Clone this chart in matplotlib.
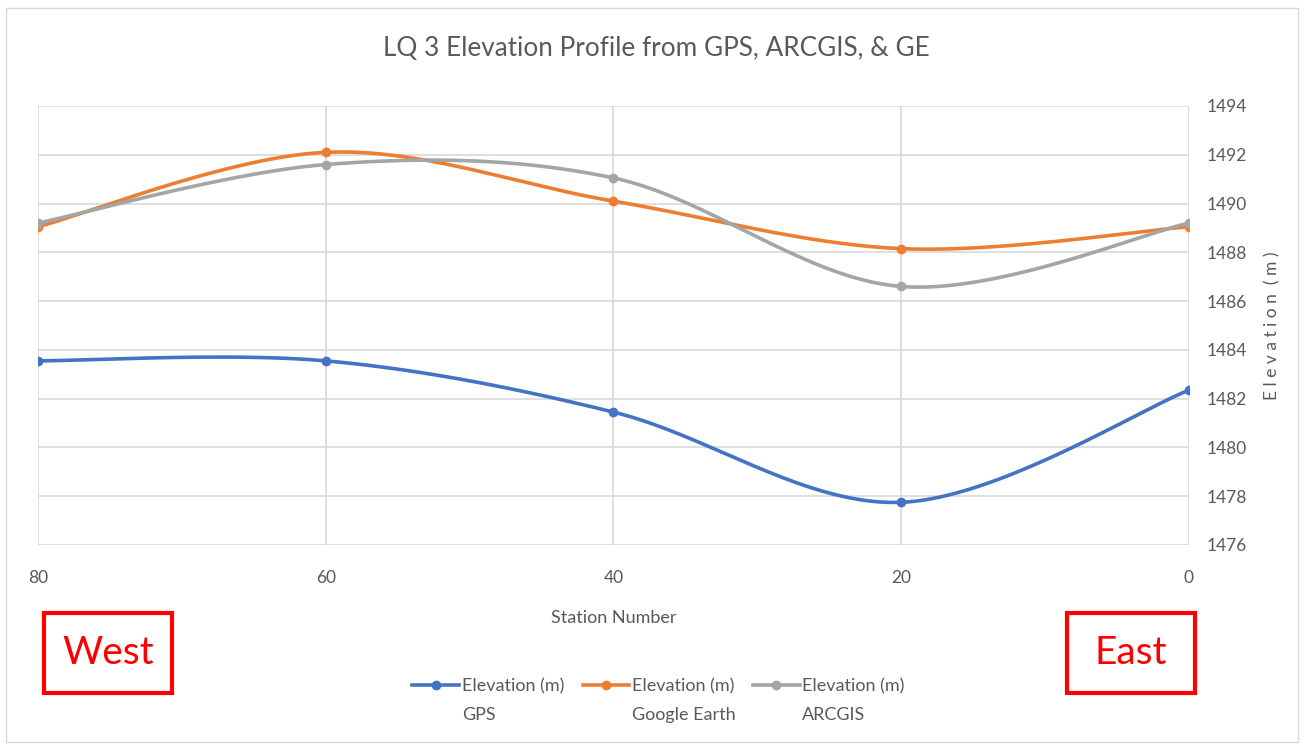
import numpy as np
import matplotlib
matplotlib.use("Agg")
import matplotlib.pyplot as plt
from matplotlib.patches import Rectangle
from matplotlib.lines import Line2D

plt.rcParams['font.family'] = ['Lato', 'DejaVu Sans']

stations = [80, 60, 40, 20, 0]
gps = [1483.55, 1483.55, 1481.45, 1477.75, 1482.35]
google_earth = [1489.05, 1492.1, 1490.1, 1488.15, 1489.05]
arcgis = [1489.2, 1491.6, 1491.05, 1486.6, 1489.2]

legend_top = ["Elevation (m)", "Elevation (m)", "Elevation (m)"]
legend_bottom = ["GPS", "Google Earth", "ARCGIS"]
colors = ["#4472C4", "#ED7D31", "#A5A5A5"]
yticks = [1476, 1478, 1480, 1482, 1484, 1486, 1488, 1490, 1492, 1494]


def smooth(xs, ys, n=40):
    # Excel style smoothed line: cubic bezier with catmull-rom control points
    xs = np.asarray(xs, float)
    ys = np.asarray(ys, float)
    pts = np.column_stack([xs, ys])
    out = []
    for i in range(len(pts) - 1):
        p0 = pts[i - 1] if i > 0 else pts[i]
        p1 = pts[i]
        p2 = pts[i + 1]
        p3 = pts[i + 2] if i + 2 < len(pts) else pts[i + 1]
        c1 = p1 + (p2 - p0) / 6.0
        c2 = p2 - (p3 - p1) / 6.0
        t = np.linspace(0, 1, n)[:, None]
        seg = ((1 - t) ** 3) * p1 + 3 * ((1 - t) ** 2) * t * c1 + 3 * (1 - t) * t ** 2 * c2 + t ** 3 * p2
        out.append(seg if i == 0 else seg[1:])
    out = np.vstack(out)
    return out[:, 0], out[:, 1]


fig = plt.figure(figsize=(13.04, 7.48), dpi=100)
ax = fig.add_axes([0.0291, 0.2714, 0.8827, 0.5869])

handles = []
for vals, col, name in zip([gps, google_earth, arcgis], colors, legend_top):
    sx, sy = smooth(stations, vals)
    ax.plot(sx, sy, color=col, lw=2.6, solid_capstyle='round', zorder=3)
    ax.plot(stations, vals, 'o', color=col, ms=6, zorder=4)
    handles.append(Line2D([0], [0], color=col, lw=2.6, marker='o', ms=6, label=name))

ax.set_xlim(80, 0)
ax.set_ylim(1476, 1494)
ax.set_xticks(stations)
ax.set_yticks(yticks)
ax.yaxis.tick_right()
ax.yaxis.set_label_position("right")
ax.grid(True, color="#D9D9D9", lw=1.2)
ax.set_axisbelow(True)
for s in ax.spines.values():
    s.set_visible(False)
ax.tick_params(length=0, colors="#595959", labelsize=12.5)
ax.tick_params(axis='x', pad=18)
ax.tick_params(axis='y', pad=13)
ax.set_xlabel("Station Number", fontsize=13, color="#595959", labelpad=17)
ax.set_ylabel("E l e v a t i o n  ( m )", fontsize=12.5, color="#595959", labelpad=12)

fig.text(0.503, 0.935, "LQ 3 Elevation Profile from GPS, ARCGIS, & GE",
         ha='center', va='center', fontsize=18.8, color="#595959")

leg = fig.legend(handles=handles, loc='center', bbox_to_anchor=(0.505, 0.083), ncol=3,
                 frameon=False, fontsize=13, labelcolor="#595959", handlelength=2.6,
                 handletextpad=0.15, columnspacing=1.0)

# second line of each legend entry, under the first line
fig.canvas.draw()
inv = fig.transFigure.inverted()
for txt, sub in zip(leg.get_texts(), legend_bottom):
    bb = txt.get_window_extent()
    x0, y0 = inv.transform((bb.x0, bb.y0))
    fig.text(x0, y0 - 0.018, sub, ha='left', va='top', fontsize=13, color="#595959")

# West / East boxes
for x0, label in [(44, "West"), (1067, "East")]:
    fig.patches.append(Rectangle((x0 / 1304, 1 - 693 / 748), 128 / 1304, 80 / 748,
                                 transform=fig.transFigure, fill=False,
                                 edgecolor="#FF0000", lw=3))
    fig.text((x0 + 64) / 1304, 1 - 653 / 748, label, ha='center', va='center',
             fontsize=28, color="#FF0000")

# chart outer border
fig.patches.append(Rectangle((6 / 1304, 6 / 748), 1292 / 1304, 734 / 748,
                             transform=fig.transFigure, fill=False,
                             edgecolor="#D9D9D9", lw=1))

fig.savefig("out.png", dpi=100)
